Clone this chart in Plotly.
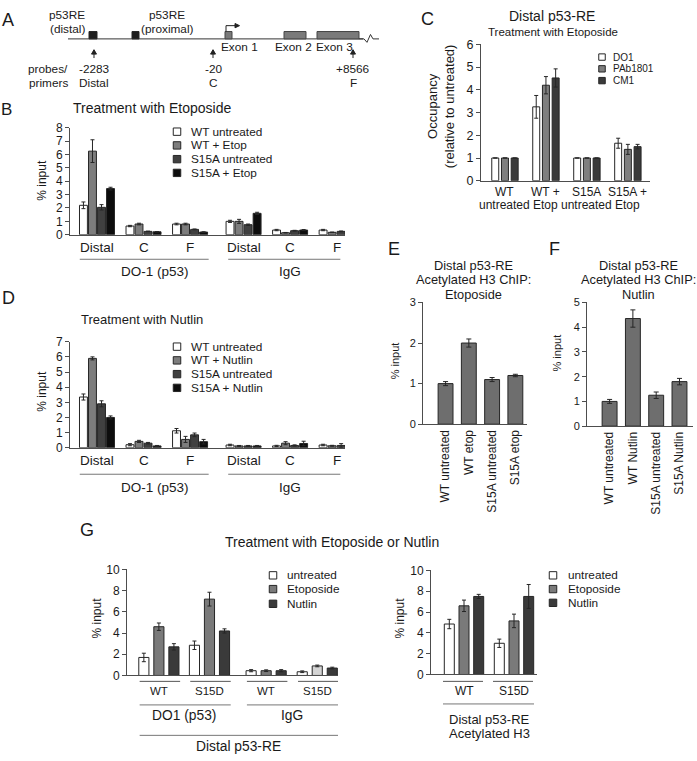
import plotly.graph_objects as go

W, H = 697, 761
FONT = "Liberation Sans, Arial, Helvetica, sans-serif"
INK = "#1a1a1a"
AXC = "#4d4d4d"
EDGE = "#262626"

# ================= DATA =================
# Panel A: gene schematic labels
a_re_labels = [("p53RE", "(distal)"), ("p53RE", "(proximal)")]
a_exons = ["Exon 1", "Exon 2", "Exon 3"]
a_probe_coords = ["-2283", "-20", "+8566"]
a_probe_names = ["Distal", "C", "F"]

# Panel B: Treatment with Etoposide (% input)
b_groups = ["Distal", "C", "F", "Distal", "C", "F"]
b_antibodies = ["DO-1 (p53)", "IgG"]
b_series = ["WT untreated", "WT + Etop", "S15A untreated", "S15A + Etop"]
b_wt_untreated = [2.2, 0.65, 0.8, 1.0, 0.35, 0.35]
b_wt_untreated_err = [0.25, 0.05, 0.06, 0.08, 0.05, 0.05]
b_wt_etop = [6.25, 0.8, 0.8, 1.0, 0.15, 0.18]
b_wt_etop_err = [0.85, 0.06, 0.06, 0.15, 0.02, 0.02]
b_s15a_untreated = [2.05, 0.25, 0.4, 0.75, 0.3, 0.25]
b_s15a_untreated_err = [0.2, 0.02, 0.03, 0.05, 0.03, 0.03]
b_s15a_etop = [3.45, 0.22, 0.2, 1.6, 0.35, 0.3]
b_s15a_etop_err = [0.1, 0.02, 0.02, 0.08, 0.04, 0.03]

# Panel C: Distal p53-RE occupancy relative to untreated
c_categories = [("WT", "untreated"), ("WT +", "Etop"), ("S15A", "untreated"), ("S15A +", "Etop")]
c_series = ["DO1", "PAb1801", "CM1"]
c_do1 = [1.0, 3.25, 1.0, 1.65]
c_do1_err = [None, 0.5, None, 0.22]
c_pab1801 = [1.0, 4.2, 1.0, 1.38]
c_pab1801_err = [None, 0.38, None, 0.22]
c_cm1 = [1.0, 4.52, 1.0, 1.5]
c_cm1_err = [None, 0.4, None, 0.1]

# Panel D: Treatment with Nutlin (% input)
d_groups = ["Distal", "C", "F", "Distal", "C", "F"]
d_antibodies = ["DO-1 (p53)", "IgG"]
d_series = ["WT untreated", "WT + Nutlin", "S15A untreated", "S15A + Nutlin"]
d_wt_untreated = [3.35, 0.2, 1.12, 0.18, 0.12, 0.18]
d_wt_untreated_err = [0.2, 0.07, 0.15, 0.05, 0.04, 0.05]
d_wt_nutlin = [5.9, 0.42, 0.55, 0.12, 0.3, 0.13]
d_wt_nutlin_err = [0.1, 0.07, 0.2, 0.03, 0.1, 0.03]
d_s15a_untreated = [2.9, 0.3, 0.85, 0.12, 0.15, 0.15]
d_s15a_untreated_err = [0.2, 0.05, 0.12, 0.03, 0.04, 0.12]
d_s15a_nutlin = [2.0, 0.12, 0.4, 0.12, 0.28, 0.13]
d_s15a_nutlin_err = [0.1, 0.03, 0.15, 0.03, 0.15, 0.05]

# Panel E: Acetylated H3 ChIP, Etoposide
e_categories = ["WT untreated", "WT etop", "S15A untreated", "S15A etop"]
e_values = [1.0, 2.0, 1.1, 1.2]
e_err = [0.05, 0.1, 0.05, 0.03]

# Panel F: Acetylated H3 ChIP, Nutlin
f_categories = ["WT untreated", "WT Nutlin", "S15A untreated", "S15A Nutlin"]
f_values = [1.0, 4.35, 1.25, 1.8]
f_err = [0.08, 0.35, 0.13, 0.13]

# Panel G left: Distal p53-RE, DO1 vs IgG
g_series = ["untreated", "Etoposide", "Nutlin"]
gl_groups = ["WT", "S15D", "WT", "S15D"]
gl_antibodies = ["DO1 (p53)", "IgG"]
gl_untreated = [1.7, 2.85, 0.45, 0.35]
gl_untreated_err = [0.4, 0.4, 0.1, 0.08]
gl_etoposide = [4.6, 7.2, 0.45, 0.9]
gl_etoposide_err = [0.35, 0.65, 0.08, 0.08]
gl_nutlin = [2.7, 4.2, 0.45, 0.7]
gl_nutlin_err = [0.3, 0.2, 0.1, 0.08]

# Panel G right: Distal p53-RE, acetylated H3
gr_groups = ["WT", "S15D"]
gr_untreated = [4.85, 3.0]
gr_untreated_err = [0.45, 0.4]
gr_etoposide = [6.6, 5.15]
gr_etoposide_err = [0.55, 0.65]
gr_nutlin = [7.5, 7.5]
gr_nutlin_err = [0.2, 1.15]

# ================= HELPERS =================
def fx(p):
    return p / W


def fy(p):
    return 1 - p / H


annotations = []
shapes = []


def txt(x, y, s, size=12, xanchor="center", yanchor="middle", angle=0, xref="paper"):
    annotations.append(dict(
        x=fx(x) if xref == "paper" else x, y=fy(y), xref=xref, yref="paper",
        text=s, showarrow=False, textangle=angle,
        font=dict(family=FONT, size=size, color=INK),
        xanchor=xanchor, yanchor=yanchor, borderpad=0))


def hline(x0, x1, y, xref="paper", color="#666666", width=1):
    shapes.append(dict(type="line", xref=xref, yref="paper",
                       x0=fx(x0) if xref == "paper" else x0,
                       x1=fx(x1) if xref == "paper" else x1,
                       y0=fy(y), y1=fy(y), line=dict(color=color, width=width)))


def path(points, fill=None, color="#222222", width=1, close=False):
    s = "M " + " L ".join(f"{fx(px):.5f},{fy(py):.5f}" for px, py in points)
    if close:
        s += " Z"
    shapes.append(dict(type="path", xref="paper", yref="paper", path=s,
                       fillcolor=fill if fill else "rgba(0,0,0,0)",
                       line=dict(color=color, width=width)))


def rect(x0, y0, x1, y1, fill, color=EDGE, width=1):
    shapes.append(dict(type="rect", xref="paper", yref="paper",
                       x0=fx(x0), x1=fx(x1), y0=fy(y1), y1=fy(y0),
                       fillcolor=fill, line=dict(color=color, width=width)))


def legend(x_sq, x_txt, ys, labels, colors, size=12, sq=7.5):
    for y, lab, col in zip(ys, labels, colors):
        rect(x_sq - sq / 2, y - sq / 2, x_sq + sq / 2, y + sq / 2, col)
        txt(x_txt, y, lab, size=size, xanchor="left")


fig = go.Figure()


def add_grouped(xa, ya, centers, vals_list, errs_list, colors, pitch, width, err_w=2):
    n = len(vals_list)
    for k, (vals, errs, col) in enumerate(zip(vals_list, errs_list, colors)):
        off = (k - (n - 1) / 2) * pitch
        xs = [c + off for c in centers]
        fig.add_trace(go.Bar(
            x=xs, y=vals, width=width, xaxis=xa, yaxis=ya,
            marker=dict(color=col, line=dict(color=EDGE, width=1)),
            error_y=dict(type="data", array=errs, visible=True, color=EDGE,
                         thickness=1, width=err_w),
            showlegend=False, hoverinfo="skip"))


def xaxis(left, right, rng, anchor, **kw):
    d = dict(domain=[left / W, right / W], range=rng, anchor=anchor, showline=True,
             linecolor=AXC, linewidth=1, ticks="", showticklabels=False,
             showgrid=False, zeroline=False, fixedrange=True)
    d.update(kw)
    return d


def yaxis(top, bottom, rng, dtick, anchor, size=12, **kw):
    d = dict(domain=[1 - bottom / H, 1 - top / H], range=rng, dtick=dtick, anchor=anchor,
             showline=True, linecolor=AXC, linewidth=1, ticks="outside", ticklen=4,
             tickcolor=AXC, tickwidth=1,
             tickfont=dict(family=FONT, size=size, color=INK),
             showgrid=False, zeroline=False, fixedrange=True)
    d.update(kw)
    return d


WHITE, MID, DARK, BLACK = "#ffffff", "#7d7d7d", "#404040", "#0d0d0d"
layout_axes = {}

# ================= PANEL A =================
txt(8, 13, "A", size=18)
hline(68, 363, 32.5, color="#333333")
rect(89, 25, 97, 32.5, "#1f1f1f")
rect(132, 25, 139, 32.5, "#1f1f1f")
rect(225, 25, 232, 32.5, "#7a7a7a", color="#444444")
rect(284, 25, 306, 32.5, "#7a7a7a", color="#444444")
rect(317, 25, 359, 32.5, "#7a7a7a", color="#444444")
path([(359, 32.5), (364, 32.5), (367, 36), (370.5, 28), (373, 32.5), (379, 32.5)], color="#333333")
path([(226, 25), (226, 19), (236, 19)], color="#222222")
path([(235, 16.8), (239.5, 19), (235, 21.2)], fill="#222222", close=True)
txt(67, 8, a_re_labels[0][0], size=11.8)
txt(67, 22, a_re_labels[0][1], size=11.8)
txt(167, 8, a_re_labels[1][0], size=11.8)
txt(167, 22, a_re_labels[1][1], size=11.8)
for xc, lab in zip([239, 293, 334], a_exons):
    txt(xc, 41, lab, size=11.8)
txt(48, 63, "probes/", size=11.8)
txt(48, 77, "primers", size=11.8)
for xc, coord, name in zip([94, 213, 353], a_probe_coords, a_probe_names):
    path([(xc, 52), (xc, 47)], color="#222222")
    path([(xc - 2.5, 48), (xc, 43.5), (xc + 2.5, 48)], fill="#222222", close=True)
    txt(xc, 63, coord, size=11.8)
    txt(xc, 77, name, size=11.8)

# ================= PANEL B =================
b_pos = [0, 1, 2, 3.15, 4.15, 5.15]
layout_axes["xaxis"] = xaxis(70, 345, [-0.58, 5.33], "y")
layout_axes["yaxis"] = yaxis(123, 232, [0, 8], 1, "x")
add_grouped("x", "y", b_pos,
            [b_wt_untreated, b_wt_etop, b_s15a_untreated, b_s15a_etop],
            [b_wt_untreated_err, b_wt_etop_err, b_s15a_untreated_err, b_s15a_etop_err],
            [WHITE, MID, DARK, BLACK], pitch=0.194, width=0.17)
txt(7, 104, "B", size=17)
txt(152, 103, "Treatment with Etoposide", size=14)
txt(42, 177, "% input", size=12, angle=-90)
legend(177, 190, [127, 141, 155, 169], b_series, [WHITE, MID, DARK, BLACK], size=11.8)
for p, g in zip(b_pos, b_groups):
    txt(p, 245, g, size=13.5, xref="x")
hline(b_pos[0] - 0.37, b_pos[2] + 0.4, 257, xref="x", color="#777777")
hline(b_pos[3] - 0.33, b_pos[5] + 0.08, 257, xref="x", color="#777777")
txt(b_pos[1] + 0.24, 269, b_antibodies[0], size=13.5, xref="x")
txt(b_pos[4], 269, b_antibodies[1], size=13.5, xref="x")

# ================= PANEL C =================
c_pos = [0, 1, 2, 3]
layout_axes["xaxis2"] = xaxis(481, 650, [-0.585, 3.54], "y2")
layout_axes["yaxis2"] = yaxis(38, 177, [0, 6], 1, "x2", size=12.5)
add_grouped("x2", "y2", c_pos, [c_do1, c_pab1801, c_cm1],
            [c_do1_err, c_pab1801_err, c_cm1_err],
            [WHITE, "#7f7f7f", "#3a3a3a"], pitch=0.237, width=0.17)
txt(427, 12, "C", size=18)
txt(552, 9, "Distal p53-RE", size=14)
txt(553, 25, "Treatment with Etoposide", size=11.5)
txt(441, 101, "Occupancy<br>(relative to untreated)", size=13, angle=-90)
legend(602, 612, [51, 63, 75], c_series, [WHITE, "#7f7f7f", "#3a3a3a"], size=10, sq=6.5)
for p, (l1, l2) in zip(c_pos, c_categories):
    txt(p, 188, l1, size=12, xref="x2")
    txt(p, 202, l2, size=12, xref="x2")

# ================= PANEL D =================
d_pos = [0, 1, 2, 3.15, 4.15, 5.15]
layout_axes["xaxis3"] = xaxis(70, 345, [-0.58, 5.33], "y3")
layout_axes["yaxis3"] = yaxis(341, 449, [0, 7], 1, "x3")
add_grouped("x3", "y3", d_pos,
            [d_wt_untreated, d_wt_nutlin, d_s15a_untreated, d_s15a_nutlin],
            [d_wt_untreated_err, d_wt_nutlin_err, d_s15a_untreated_err, d_s15a_nutlin_err],
            [WHITE, MID, DARK, BLACK], pitch=0.194, width=0.17)
txt(8, 296, "D", size=18)
txt(142, 318, "Treatment with Nutlin", size=13)
txt(42, 392, "% input", size=12, angle=-90)
legend(177, 190, [346, 360, 374, 388], d_series, [WHITE, MID, DARK, BLACK], size=11.8)
for p, g in zip(d_pos, d_groups):
    txt(p, 462, g, size=13.5, xref="x3")
hline(d_pos[0] - 0.37, d_pos[2] + 0.4, 476, xref="x3", color="#777777")
hline(d_pos[3] - 0.33, d_pos[5] + 0.08, 476, xref="x3", color="#777777")
txt(d_pos[1] + 0.24, 489, d_antibodies[0], size=13.5, xref="x3")
txt(d_pos[4], 489, d_antibodies[1], size=13.5, xref="x3")

# ================= PANEL E =================
e_pos = [0, 1, 2, 3]
layout_axes["xaxis4"] = xaxis(423, 527, [-0.97, 3.5], "y4",
                              showticklabels=True, tickvals=e_pos, ticktext=e_categories,
                              tickangle=-90, tickfont=dict(family=FONT, size=12, color=INK))
layout_axes["yaxis4"] = yaxis(301, 425, [0, 3], 1, "x4", size=11)
fig.add_trace(go.Bar(x=e_pos, y=e_values, width=0.64, xaxis="x4", yaxis="y4",
                     marker=dict(color="#6e6e6e", line=dict(color=EDGE, width=1)),
                     error_y=dict(type="data", array=e_err, visible=True, color=EDGE,
                                  thickness=1, width=2.5),
                     showlegend=False, hoverinfo="skip"))
txt(394, 247, "E", size=18)
txt(473, 263, "Distal p53-RE", size=12.8)
txt(473, 278, "Acetylated H3 ChIP:", size=12.8)
txt(473, 293, "Etoposide", size=12.8)
txt(395, 361, "% input", size=11, angle=-90)

# ================= PANEL F =================
f_pos = [0, 1, 2, 3]
layout_axes["xaxis5"] = xaxis(587, 693, [-0.97, 3.58], "y5",
                              showticklabels=True, tickvals=f_pos, ticktext=f_categories,
                              tickangle=-90, tickfont=dict(family=FONT, size=12, color=INK))
layout_axes["yaxis5"] = yaxis(301, 427, [0, 5], 1, "x5", size=11)
fig.add_trace(go.Bar(x=f_pos, y=f_values, width=0.64, xaxis="x5", yaxis="y5",
                     marker=dict(color="#6e6e6e", line=dict(color=EDGE, width=1)),
                     error_y=dict(type="data", array=f_err, visible=True, color=EDGE,
                                  thickness=1, width=2.5),
                     showlegend=False, hoverinfo="skip"))
txt(554, 247, "F", size=18)
txt(638, 263, "Distal p53-RE", size=12.8)
txt(638, 278, "Acetylated H3 ChIP:", size=12.8)
txt(638, 293, "Nutlin", size=12.8)
txt(557, 353, "% input", size=11, angle=-90)

# ================= PANEL G =================
txt(87, 533, "G", size=18)
txt(332, 545, "Treatment with Etoposide or Nutlin", size=14)

gl_pos = [0, 1, 2.12, 3.13]
layout_axes["xaxis6"] = xaxis(127, 338, [-0.63, 3.54], "y6")
layout_axes["yaxis6"] = yaxis(573, 681, [0, 10], 2, "x6")
gl_etop_colors = ["#7a7a7a", "#7a7a7a", "#7a7a7a", "#d4d4d4"]
add_grouped("x6", "y6", gl_pos, [gl_untreated, gl_etoposide, gl_nutlin],
            [gl_untreated_err, gl_etoposide_err, gl_nutlin_err],
            [WHITE, gl_etop_colors, "#3a3a3a"], pitch=0.297, width=0.2)
txt(97, 623, "% input", size=12, angle=-90)
legend(273, 286, [579, 593, 608], g_series, [WHITE, "#7a7a7a", "#3a3a3a"], size=11.8)
for p, g in zip(gl_pos, gl_groups):
    hline(p - 0.38, p + 0.42, 687, xref="x6", color="#555555")
    txt(p, 697, g, size=11.5, xref="x6")
hline(gl_pos[0] - 0.38, gl_pos[1] + 0.42, 711, xref="x6", color="#777777")
hline(gl_pos[2] - 0.38, gl_pos[3] + 0.42, 711, xref="x6", color="#777777")
txt((gl_pos[0] + gl_pos[1]) / 2, 722, gl_antibodies[0], size=13.8, xref="x6")
txt((gl_pos[2] + gl_pos[3]) / 2, 722, gl_antibodies[1], size=13.8, xref="x6")
hline(gl_pos[0] - 0.38, gl_pos[3] + 0.42, 742, xref="x6", color="#777777")
txt((gl_pos[0] + gl_pos[3]) / 2, 753, "Distal p53-RE", size=13.8, xref="x6")

gr_pos = [0, 1]
layout_axes["xaxis7"] = xaxis(431, 537, [-0.66, 1.46], "y7")
layout_axes["yaxis7"] = yaxis(574, 680, [0, 10], 2, "x7")
add_grouped("x7", "y7", gr_pos, [gr_untreated, gr_etoposide, gr_nutlin],
            [gr_untreated_err, gr_etoposide_err, gr_nutlin_err],
            [WHITE, "#7a7a7a", "#3a3a3a"], pitch=0.294, width=0.2)
txt(400, 623, "% input", size=12, angle=-90)
legend(553, 567, [579, 593, 607], g_series, [WHITE, "#7a7a7a", "#3a3a3a"], size=11.8)
for p, g in zip(gr_pos, gr_groups):
    hline(p - 0.42, p + 0.38, 687, xref="x7", color="#555555")
    txt(p, 697, g, size=12, xref="x7")
hline(gr_pos[0] - 0.42, gr_pos[1] + 0.4, 710, xref="x7", color="#777777")
txt((gr_pos[0] + gr_pos[1]) / 2, 726, "Distal p53-RE", size=13, xref="x7")
txt((gr_pos[0] + gr_pos[1]) / 2, 740, "Acetylated H3", size=13, xref="x7")

fig.update_layout(
    width=W, height=H, margin=dict(l=0, r=0, t=0, b=0),
    paper_bgcolor="white", plot_bgcolor="white",
    barmode="overlay", showlegend=False,
    font=dict(family=FONT, color=INK),
    annotations=annotations, shapes=shapes,
    **layout_axes,
)

fig.write_html(
    "out.html",
    config={"displayModeBar": False},
    post_script="document.body.style.margin='0';document.body.style.padding='0';"
                "document.body.style.overflow='hidden';",
)
